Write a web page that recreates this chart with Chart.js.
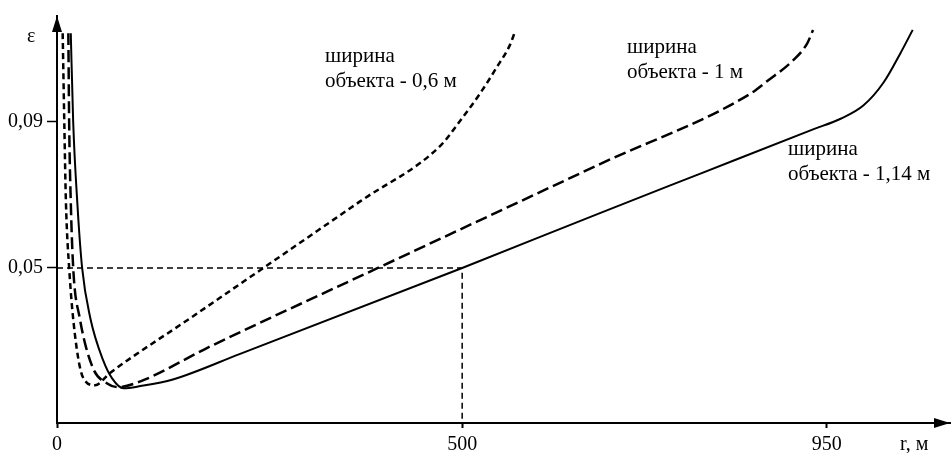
<!DOCTYPE html>
<html>
<head>
<meta charset="utf-8">
<script src="https://cdn.jsdelivr.net/npm/chart.js@4.4.1/dist/chart.umd.min.js"></script>
<style>
  html, body { margin: 0; padding: 0; background: #fff; }
  #wrap { width: 951px; height: 453px; position: relative; }
</style>
</head>
<body>
<div id="wrap"><canvas id="chart"></canvas></div>
<script>
// Axis ranges and ticks
const X_MIN = 0, X_MAX = 1102;
const Y_MIN = 0.0076, Y_MAX = 0.1189;
const X_TICKS = [0, 500, 950];
const X_TICK_LABELS = ['0', '500', '950'];
const Y_TICKS = [0.05, 0.09];
const Y_TICK_LABELS = ['0,05', '0,09'];

// Object width 0.6 m (short dashes)
const R_06 = [7, 9, 11, 15, 22, 32, 47, 65, 164, 279, 374, 473, 498, 522, 543, 559, 565];
const E_06 = [0.1142, 0.0898, 0.0681, 0.0500, 0.0320, 0.0201, 0.0179, 0.0212, 0.0362, 0.0537, 0.0682, 0.0834, 0.0904, 0.0977, 0.1050, 0.1110, 0.1145];

// Object width 1 m (long dashes)
const R_1 = [14, 15, 17, 20, 28, 44, 62, 75, 103, 185, 396, 670, 856, 877, 909, 926, 933];
const E_1 = [0.1142, 0.0898, 0.0681, 0.0500, 0.0364, 0.0228, 0.0184, 0.0174, 0.0190, 0.0281, 0.0500, 0.0784, 0.0977, 0.1012, 0.1069, 0.1115, 0.1151];

// Object width 1.14 m (solid)
const R_114 = [17, 20, 25, 31, 41, 57, 68, 82, 103, 143, 226, 500, 670, 794, 933, 967, 995, 1020, 1041, 1056];
const E_114 = [0.1142, 0.0898, 0.0681, 0.0500, 0.0364, 0.0247, 0.0198, 0.0171, 0.0177, 0.0195, 0.0265, 0.0500, 0.0650, 0.0758, 0.0879, 0.0908, 0.0944, 0.1007, 0.1088, 0.1151];

// Reference point marked by the dashed guide lines
const REF_R = 500, REF_E = 0.05;

const CURVE_LABELS = [
  ['ширина', 'объекта - 0,6 м'],
  ['ширина', 'объекта - 1 м'],
  ['ширина', 'объекта - 1,14 м']
];
const AXIS_X_TITLE = 'r, м';
const AXIS_Y_TITLE = 'ε';

const toPoints = (xs, ys) => xs.map((x, i) => ({x: x, y: ys[i]}));

Chart.defaults.font.family = '"Liberation Serif", "DejaVu Serif", serif';
Chart.defaults.font.size = 20;
Chart.defaults.color = '#000';

// Arrows on the axes and text labels
const decorations = {
  id: 'decorations',
  afterDraw(chart) {
    const ctx = chart.ctx;
    const {left, right, top, bottom} = chart.chartArea;
    ctx.save();
    ctx.fillStyle = '#000';
    // y arrow
    ctx.beginPath();
    ctx.moveTo(left, top);
    ctx.lineTo(left - 5, top + 16);
    ctx.lineTo(left + 5, top + 16);
    ctx.closePath();
    ctx.fill();
    // x arrow
    ctx.beginPath();
    ctx.moveTo(right, bottom);
    ctx.lineTo(right - 16, bottom - 5);
    ctx.lineTo(right - 16, bottom + 5);
    ctx.closePath();
    ctx.fill();

    ctx.textBaseline = 'alphabetic';
    ctx.textAlign = 'left';
    ctx.font = '20px "Liberation Serif"';
    ctx.fillText(AXIS_Y_TITLE, 27, 42);
    ctx.fillText(AXIS_X_TITLE, 900, 450);

    ctx.font = '21px "Liberation Serif"';
    const spots = [[325, 62], [627, 53], [788, 155]];
    CURVE_LABELS.forEach((lines, i) => {
      lines.forEach((t, j) => ctx.fillText(t, spots[i][0], spots[i][1] + j * 25));
    });
    ctx.restore();
  }
};

const ctx = document.getElementById('chart').getContext('2d');
new Chart(ctx, {
  type: 'scatter',
  data: {
    datasets: [
      {
        label: 'guide',
        data: [{x: X_MIN, y: REF_E}, {x: REF_R, y: REF_E}, {x: REF_R, y: Y_MIN}],
        showLine: true,
        borderColor: '#000',
        borderWidth: 1.5,
        borderDash: [6, 4],
        pointRadius: 0,
        tension: 0
      },
      {
        label: 'ширина объекта - 0,6 м',
        data: toPoints(R_06, E_06),
        showLine: true,
        borderColor: '#000',
        borderWidth: 2.5,
        borderDash: [6, 4],
        pointRadius: 0,
        cubicInterpolationMode: 'monotone'
      },
      {
        label: 'ширина объекта - 1 м',
        data: toPoints(R_1, E_1),
        showLine: true,
        borderColor: '#000',
        borderWidth: 2.5,
        borderDash: [12, 5],
        pointRadius: 0,
        cubicInterpolationMode: 'monotone'
      },
      {
        label: 'ширина объекта - 1,14 м',
        data: toPoints(R_114, E_114),
        showLine: true,
        borderColor: '#000',
        borderWidth: 2,
        pointRadius: 0,
        cubicInterpolationMode: 'monotone'
      }
    ]
  },
  options: {
    responsive: true,
    maintainAspectRatio: false,
    animation: false,
    layout: { padding: { top: 13, right: 1, left: 0, bottom: 0 } },
    plugins: {
      legend: { display: false },
      tooltip: { enabled: false }
    },
    scales: {
      x: {
        type: 'linear',
        min: X_MIN,
        max: X_MAX,
        afterFit: (s) => { s.height = 30; },
        afterBuildTicks: (s) => { s.ticks = X_TICKS.map(v => ({value: v})); },
        ticks: {
          padding: 5,
          maxRotation: 0,
          callback: (v, i) => X_TICK_LABELS[i]
        },
        grid: { drawOnChartArea: false, tickLength: 5, color: '#000', tickWidth: 2 },
        border: { color: '#000', width: 2 }
      },
      y: {
        type: 'linear',
        min: Y_MIN,
        max: Y_MAX,
        afterFit: (s) => { s.width = 57; },
        afterBuildTicks: (s) => { s.ticks = Y_TICKS.map(v => ({value: v})); },
        ticks: {
          padding: 4,
          callback: (v, i) => Y_TICK_LABELS[i]
        },
        grid: { drawOnChartArea: false, tickLength: 10, color: '#000', tickWidth: 1.5 },
        border: { color: '#000', width: 2 }
      }
    }
  },
  plugins: [decorations]
});
</script>
</body>
</html>
